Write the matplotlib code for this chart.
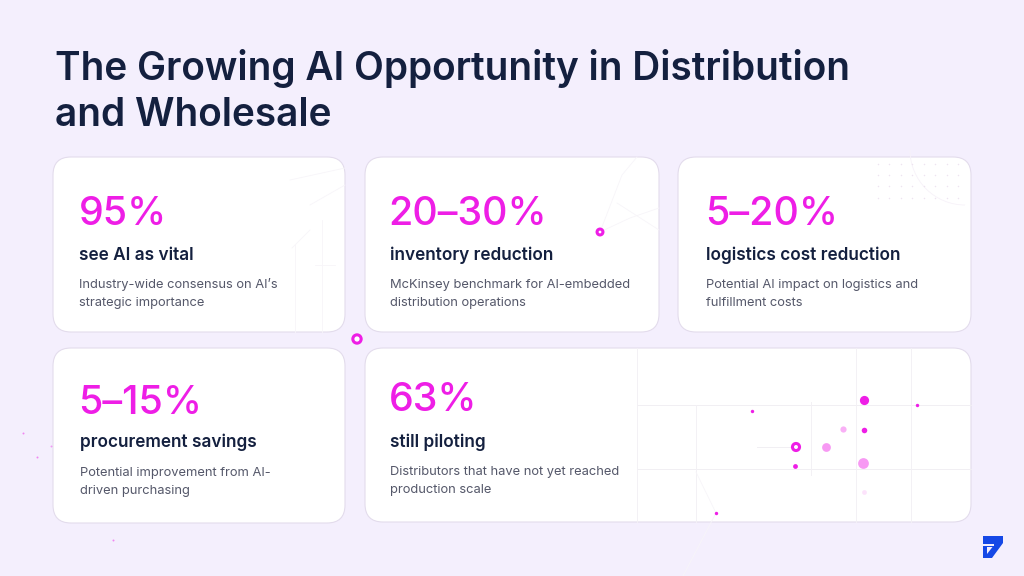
import matplotlib
matplotlib.use('Agg')
import matplotlib.pyplot as plt
from matplotlib.patches import FancyBboxPatch, Polygon, Arc

# text
title_lines = ['The Growing AI Opportunity in Distribution', 'and Wholesale']
metrics = ['95%', '20–30%', '5–20%', '5–15%', '63%']
labels = ['see AI as vital', 'inventory reduction', 'logistics cost reduction', 'procurement savings', 'still piloting']
descs = [
    ['Industry-wide consensus on AI’s', 'strategic importance'],
    ['McKinsey benchmark for AI-embedded', 'distribution operations'],
    ['Potential AI impact on logistics and', 'fulfillment costs'],
    ['Potential improvement from AI-', 'driven purchasing'],
    ['Distributors that have not yet reached', 'production scale'],
]

# card boxes in pixels: left, top, right, bottom
cards = [(53, 157, 345, 332), (365, 157, 659, 332), (678, 157, 971, 332),
         (53, 348, 345, 523), (365, 348, 971, 522)]
text_x = [79, 390, 706, 80, 390]
metric_x = [78.5, 388.5, 705, 78.5, 389]
metric_y = [225, 225, 225, 414, 411]
label_y = [260, 260, 260, 447, 447]
desc_y = [288, 288, 288, 476, 475]

# faint lines on the wide card and the other decorations
grid_h = [(637, 971, 405), (637, 971, 469), (757, 795, 447)]
grid_v = [(637, 348, 522), (696, 405, 522), (811, 402, 475), (856, 348, 522), (911, 348, 522)]
thin_lines = [
    ([696, 716, 683], [472, 513, 576]),
    ([600, 630, 659], [232, 218, 208]),
    ([600, 622, 637], [232, 175, 157]),
    ([617, 659], [203, 230]),
    ([290, 345], [180, 168]),
    ([310, 345], [205, 185]),
    ([292, 310], [248, 230]),
    ([322, 322], [220, 332]),
    ([295, 295], [245, 332]),
    ([315, 335], [265, 265]),
]

# dots: x, y, size, alpha
dots_x = [864, 917, 752, 864, 843, 826, 863, 795, 864, 716, 23, 37, 113, 51]
dots_y = [400, 405, 411, 430, 429, 447, 463, 466, 492, 513, 433, 457, 540, 446]
dots_s = [44, 6, 6, 16, 20, 40, 60, 12, 12, 6, 2, 2, 2, 2]
dots_a = [1, 1, 1, 1, .35, .45, .45, 1, .12, 1, .5, .5, .5, .4]
rings_x = [600, 357, 796]
rings_y = [232, 339, 447]
rings_s = [18, 36, 26]

# dot grid in the logistics card corner
grid_dots_x = [878, 889, 901, 912, 924, 935, 947, 958]
grid_dots_y = [164, 175, 186, 198]

logo_outer = [(983, 536), (1003, 536), (1003, 543), (992, 558), (983, 558)]
logo_slit = [(983, 544), (994, 544), (994, 545.5), (983, 545.5)]
logo_notch = [(987, 547), (992.5, 547), (987, 554)]

BG = '#f4effd'
NAVY = '#14203f'
MAGENTA = '#ee1ee6'
GREY = '#55586a'
FONT = 'Inter'

fig = plt.figure(figsize=(10.24, 5.76), dpi=100, facecolor=BG)
ax = fig.add_axes([0, 0, 1, 1])
ax.set_xlim(0, 1024)
ax.set_ylim(576, 0)
ax.axis('off')

for l, t, r, b in cards:
    ax.add_patch(FancyBboxPatch((l + 18, t + 18), r - l - 36, b - t - 36,
                                boxstyle='round,pad=18,rounding_size=18',
                                fc='white', ec='#e3dcec', lw=0.8, zorder=1))

for x0, x1, y in grid_h:
    ax.plot([x0, x1], [y, y], color='#f1eff3', lw=0.7, zorder=2)
for x, y0, y1 in grid_v:
    ax.plot([x, x], [y0, y1], color='#f3f1f5', lw=0.7, zorder=2)
for xs, ys in thin_lines:
    ax.plot(xs, ys, color='#f7f5f9', lw=0.6, zorder=2)
ax.add_patch(Arc((965, 150), 110, 110, theta1=90, theta2=180, color='#f7f2f9', lw=0.6, zorder=2))

for gy in grid_dots_y:
    ax.scatter(grid_dots_x, [gy] * len(grid_dots_x), s=1.2, color='#eee4f0', lw=0, zorder=2)

for x, y, s, a in zip(dots_x, dots_y, dots_s, dots_a):
    ax.scatter(x, y, s=s, color=MAGENTA, alpha=a, lw=0, zorder=3)
ax.scatter(rings_x, rings_y, s=rings_s, facecolor='white', edgecolor=MAGENTA, lw=2.2, zorder=3)

ax.add_patch(Polygon(logo_outer, closed=True, fc='#1548e6', ec='none', zorder=3))
for pts in (logo_slit, logo_notch):
    ax.add_patch(Polygon(pts, closed=True, fc=BG, ec='none', zorder=4))

for i, line in enumerate(title_lines):
    ax.text(55, 80 + i * 46, line, fontsize=27.9, fontweight='semibold', color=NAVY,
            family=FONT, va='baseline')

for i in range(len(metrics)):
    ax.text(metric_x[i], metric_y[i], metrics[i], fontsize=28.4, color=MAGENTA,
            family=FONT, va='baseline', fontweight='medium')
    ax.text(text_x[i], label_y[i], labels[i], fontsize=12.4, color=NAVY,
            family=FONT, va='baseline', fontweight='semibold')
    for j, line in enumerate(descs[i]):
        ax.text(text_x[i], desc_y[i] + j * 18, line, fontsize=9.3, color=GREY,
                family=FONT, va='baseline')

fig.savefig('out.png', dpi=100, facecolor=BG)
